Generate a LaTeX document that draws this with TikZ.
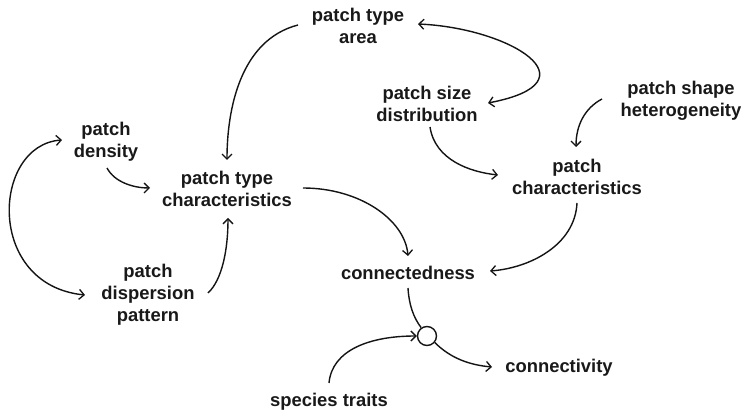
\documentclass[tikz,border=0pt]{standalone}
\usepackage{fontspec}
\setsansfont{Liberation Sans}
\usetikzlibrary{arrows.meta,calc}
\begin{document}
\begin{tikzpicture}[x=1pt,y=-1pt,
  lbl/.style={font=\sffamily\bfseries\fontsize{18.4}{22}\selectfont, align=center, inner sep=0pt, text={rgb,255:red,25;green,25;blue,25}},
  link/.style={draw={rgb,255:red,20;green,20;blue,20}, line width=1.4pt},
  conn/.style={link, -{Straight Barb[length=5pt,width=10pt,line width=1.3pt]}},
  dconn/.style={link, {Straight Barb[length=5pt,width=10pt,line width=1.3pt]}-{Straight Barb[length=5pt,width=10pt,line width=1.3pt]}},
  junction/.style={circle, draw={rgb,255:red,20;green,20;blue,20}, fill=white, line width=1.4pt, minimum size=19pt, inner sep=0pt}]
\fill[white] (0,0) rectangle (745,411);
\useasboundingbox (0,0) rectangle (745,411);

\node[lbl] (pta) at (358,26) {patch type\\area};
\node[lbl] (psd) at (427,104) {patch size\\distribution};
\node[lbl] (psh) at (681,101) {patch shape\\heterogeneity};
\node[lbl] (pc)  at (577,177) {patch\\characteristics};
\node[lbl] (pd)  at (106,142) {patch\\density};
\node[lbl] (ptc) at (227,189) {patch type\\characteristics};
\node[lbl] (pdp) at (148,295) {patch\\dispersion\\pattern};
\node[lbl] (con) at (408,273) {connectedness};
\node[lbl] (ctv) at (559,368) {connectivity};
\node[lbl] (st)  at (329,402) {species traits};
\node[junction] (junc) at (427,336) {};

% patch type area -> patch type characteristics
\draw[conn] ($(pta)+(-60,-1)$) .. controls +(-58,15) and +(0,-50) .. ($(ptc)+(0,-29)$);
% patch type area <-> patch size distribution
\draw[dconn] ($(pta)+(60,-2)$) .. controls +(92,4) and +(110,-21) .. ($(psd)+(61,-1)$);
% patch size distribution -> patch characteristics
\draw[conn] ($(psd)+(3,23)$) .. controls +(5,33) and +(-28,-3) .. ($(pc)+(-79,-2)$);
% patch shape heterogeneity -> patch characteristics
\draw[conn] ($(psh)+(-79,-2)$) .. controls +(-17,9) and +(0,-22) .. ($(pc)+(-1,-30)$);
% patch characteristics -> connectedness
\draw[conn] ($(pc)+(0,26)$) .. controls +(-2,42) and +(40,-3) .. ($(con)+(82,-2)$);
% patch type characteristics -> connectedness
\draw[conn] ($(ptc)+(76,-1)$) .. controls +(57,0) and +(-3,-36) .. ($(con)+(0,-17)$);
% patch density -> patch type characteristics
\draw[conn] ($(pd)+(1,26)$) .. controls +(8,15) and +(-15,0) .. ($(ptc)+(-77,-1)$);
% patch density <-> patch dispersion pattern
\draw[dconn] ($(pd)+(-44,-2)$) .. controls +(-70,5) and +(-100,-10) .. ($(pdp)+(-63,0)$);
% patch dispersion pattern -> patch type characteristics
\draw[conn] ($(pdp)+(60,-2)$) .. controls +(14,-13) and +(0,32) .. ($(ptc)+(1,29)$);
% connectedness -> junction
\draw[link] ($(con)+(0,15)$) .. controls +(1,17) and +(-7.6,-10) .. (junc.125);
% species traits -> junction
\draw[conn] ($(st)+(0,-19)$) .. controls +(3,-33) and +(-47,0) .. (junc.west);
% junction -> connectivity
\draw[conn] (junc.-40) .. controls +(16,16) and +(-22,-2) .. ($(ctv)+(-67,-1)$);
\end{tikzpicture}
\end{document}
